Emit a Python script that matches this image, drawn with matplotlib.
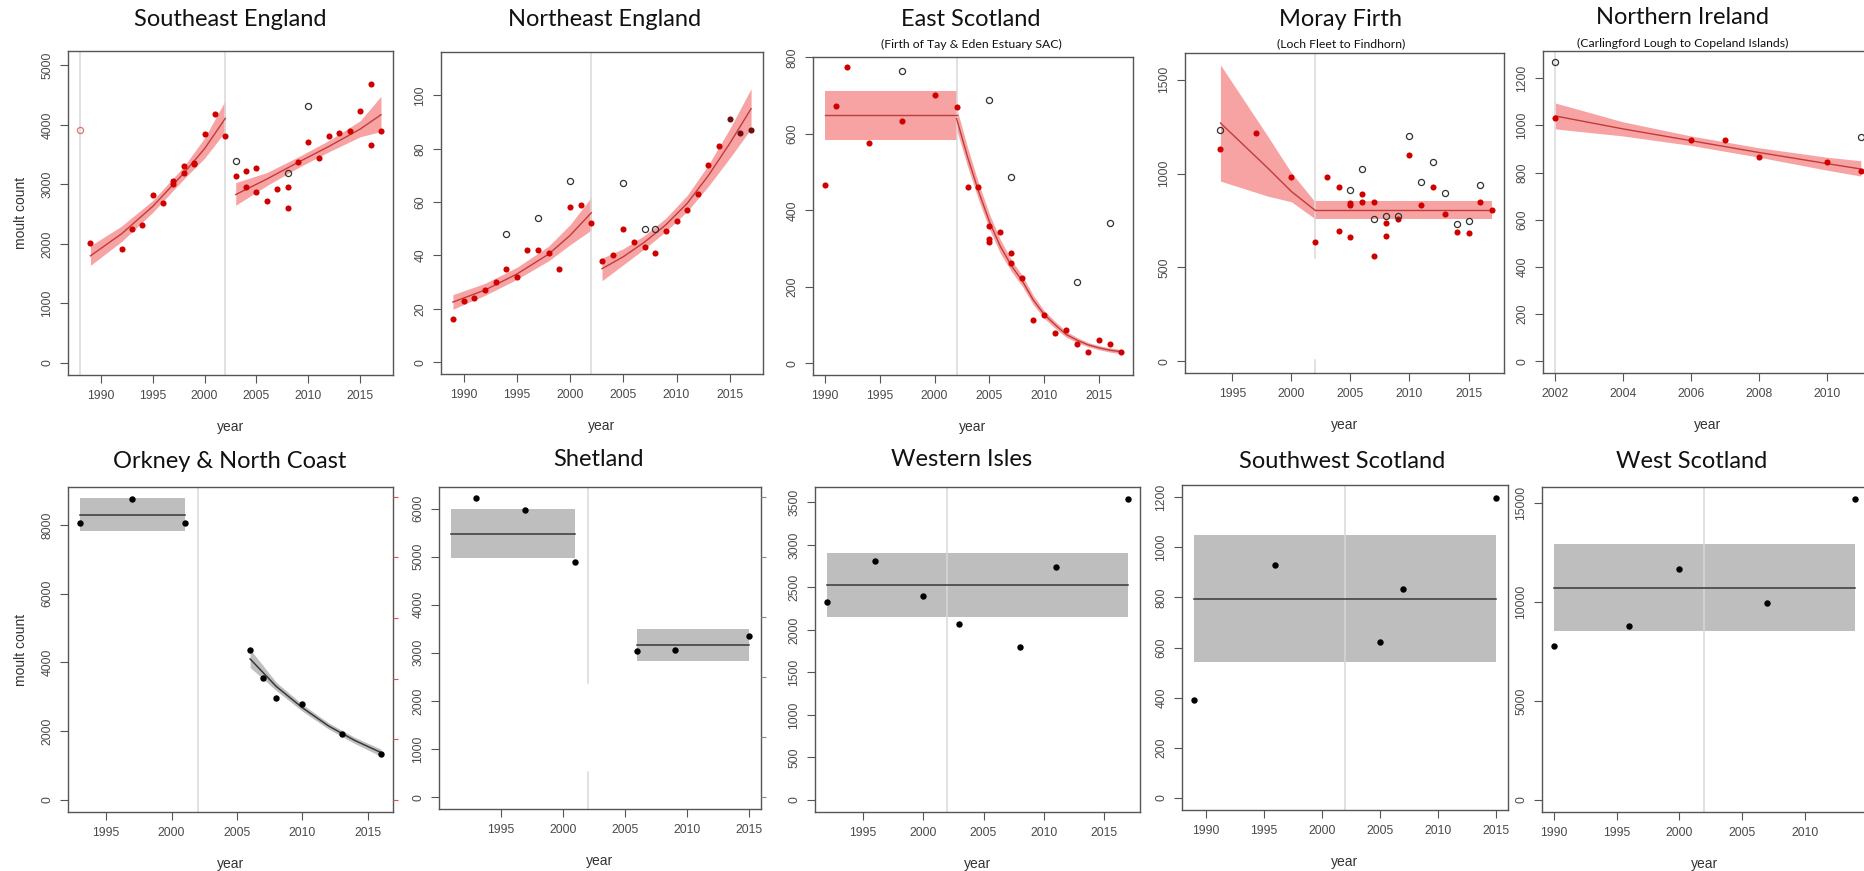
import numpy as np
import matplotlib.pyplot as plt

plt.rcParams['font.family'] = ['Liberation Sans', 'DejaVu Sans']

W, H = 1865, 871
BREAK = 2002  # survey method change, grey vertical line

RED = '#d10000'
DARK_RED = '#6e1010'
PINK = '#f8a3a3'
RED_LINE = '#c23b3b'
OPEN = '#333333'
GREY_BAND = '#bebebe'
BLACK_LINE = '#383838'
VLINE = '#d8d8d8'
FRAME = '#555555'
TICKLAB = '#4a4a4a'

# ---------------- Southeast England ----------------
se_yr = [1989, 1992, 1993, 1994, 1995, 1996, 1997, 1997, 1998, 1998, 1999, 1999, 2000, 2001, 2002,
         2003, 2004, 2004, 2005, 2005, 2006, 2007, 2008, 2008, 2009, 2010, 2011, 2012, 2013, 2014,
         2015, 2016, 2016, 2017]
se_n = [2020, 1920, 2250, 2310, 2820, 2690, 3050, 3000, 3310, 3190, 3360, 3350, 3850, 4190, 3810,
        3140, 3220, 2950, 3270, 2880, 2720, 2930, 2960, 2600, 3380, 3720, 3450, 3820, 3860, 3900,
        4240, 4680, 3660, 3900]
se_open_yr = [2003, 2008, 2010]
se_open_n = [3400, 3190, 4320]
se_excl_yr = [1988]
se_excl_n = [3910]
se_fa_yr = [1989, 1992, 1995, 1998, 2000, 2002]
se_fa = [1800, 2170, 2630, 3190, 3600, 4110]
se_fa_lo = [1640, 2040, 2530, 3090, 3440, 3890]
se_fa_hi = [1970, 2300, 2730, 3300, 3780, 4410]
se_fb_yr = [2003, 2006, 2009, 2012, 2015, 2017]
se_fb = [2830, 3090, 3370, 3640, 3930, 4170]
se_fb_lo = [2650, 2980, 3280, 3550, 3800, 3890]
se_fb_hi = [3030, 3200, 3460, 3740, 4070, 4480]

# ---------------- Northeast England ----------------
ne_yr = [1989, 1990, 1991, 1992, 1993, 1994, 1995, 1996, 1997, 1998, 1999, 2000, 2001, 2002,
         2003, 2004, 2005, 2006, 2007, 2008, 2009, 2010, 2011, 2012, 2013, 2014]
ne_n = [16, 23, 24, 27, 30, 35, 32, 42, 42, 41, 35, 58, 59, 52,
        38, 40, 50, 45, 43, 41, 49, 53, 57, 63, 74, 81]
ne_dark_yr = [2015, 2016, 2017]
ne_dark_n = [91, 86, 87]
ne_open_yr = [1994, 1997, 2000, 2005, 2007, 2008]
ne_open_n = [48, 54, 68, 67, 50, 50]
ne_fa_yr = [1989, 1992, 1995, 1998, 2000, 2002]
ne_fa = [22.5, 27, 33, 40.5, 47.5, 56]
ne_fa_lo = [19.8, 25, 31, 38, 44, 49.5]
ne_fa_hi = [25.3, 29.5, 35.5, 43.5, 51.5, 61.8]
ne_fb_yr = [2003, 2005, 2007, 2009, 2011, 2013, 2015, 2017]
ne_fb = [35, 39.5, 45, 51.5, 59.5, 70, 82, 95]
ne_fb_lo = [30.5, 36.5, 42.5, 49, 56.5, 66, 76.5, 87.5]
ne_fb_hi = [39, 42.5, 47.5, 54, 62.5, 74, 87.5, 102.5]

# ---------------- East Scotland ----------------
es_yr = [1990, 1991, 1992, 1994, 1997, 2000, 2002, 2003, 2004, 2005, 2005, 2005, 2006, 2007, 2007,
         2008, 2009, 2010, 2011, 2012, 2013, 2014, 2015, 2016, 2017]
es_n = [467, 672, 775, 575, 633, 702, 670, 460, 460, 360, 325, 318, 343, 287, 262,
        222, 113, 127, 78, 87, 50, 30, 60, 50, 30]
es_open_yr = [1997, 2005, 2007, 2013, 2016]
es_open_n = [765, 688, 488, 213, 368]
es_fa_yr = [1990, 2002]
es_fa = [648, 648]
es_fa_lo = [585, 585]
es_fa_hi = [712, 712]
es_fb_yr = [2002, 2003, 2004, 2005, 2006, 2007, 2008, 2009, 2010, 2011, 2012, 2013, 2014, 2015, 2016, 2017]
es_fb = [640, 540, 450, 370, 305, 255, 215, 165, 127, 100, 75, 60, 48, 40, 34, 30]
es_fb_lo = [612, 515, 428, 350, 287, 240, 201, 153, 117, 91, 68, 54, 43, 35, 29, 25]
es_fb_hi = [668, 565, 472, 390, 323, 270, 229, 177, 137, 109, 83, 67, 54, 46, 40, 36]

# ---------------- Moray Firth ----------------
mf_yr = [1994, 1997, 2000, 2002, 2003, 2004, 2004, 2005, 2005, 2005, 2006, 2006, 2007, 2007,
         2008, 2008, 2009, 2010, 2011, 2012, 2013, 2014, 2015, 2016, 2017]
mf_n = [1130, 1215, 980, 635, 980, 930, 695, 845, 830, 660, 890, 850, 850, 560,
        735, 670, 760, 1100, 835, 930, 785, 690, 685, 850, 808]
mf_open_yr = [1994, 2005, 2006, 2007, 2008, 2009, 2010, 2011, 2012, 2013, 2014, 2015, 2016]
mf_open_n = [1230, 915, 1025, 760, 775, 775, 1200, 955, 1060, 895, 730, 745, 940]
mf_fa_yr = [1994, 1996, 1998, 2000, 2002]
mf_fa = [1270, 1150, 1030, 905, 805]
mf_fa_lo = [960, 920, 880, 850, 760]
mf_fa_hi = [1580, 1390, 1200, 1005, 850]
mf_fb_yr = [2002, 2017]
mf_fb = [805, 805]
mf_fb_lo = [757, 757]
mf_fb_hi = [852, 852]

# ---------------- Northern Ireland ----------------
ni_yr = [2002, 2006, 2007, 2008, 2010, 2011]
ni_n = [1032, 940, 940, 865, 845, 808]
ni_open_yr = [2002, 2011]
ni_open_n = [1268, 950]
ni_f_yr = [2002, 2004, 2006, 2008, 2010, 2011]
ni_f = [1040, 985, 935, 885, 838, 815]
ni_f_lo = [985, 955, 915, 865, 810, 785]
ni_f_hi = [1095, 1015, 955, 905, 865, 850]

# ---------------- Orkney & North Coast ----------------
or_yr = [1993, 1997, 2001, 2006, 2007, 2008, 2010, 2013, 2016]
or_n = [8050, 8760, 8050, 4370, 3560, 2970, 2800, 1920, 1350]
or_fa_yr = [1993, 2001]
or_fa = [8300, 8300]
or_fa_lo = [7820, 7820]
or_fa_hi = [8780, 8780]
or_fb_yr = [2006, 2007, 2008, 2010, 2012, 2014, 2016]
or_fb = [4100, 3700, 3300, 2680, 2150, 1730, 1380]
or_fb_lo = [3850, 3520, 3180, 2580, 2060, 1640, 1270]
or_fb_hi = [4380, 3900, 3420, 2780, 2240, 1820, 1480]

# ---------------- Shetland ----------------
sh_yr = [1993, 1997, 2001, 2006, 2009, 2015]
sh_n = [6215, 5980, 4880, 3035, 3055, 3350]
sh_fa_yr = [1991, 2001]
sh_fa = [5475, 5475]
sh_fa_lo = [4975, 4975]
sh_fa_hi = [5990, 5990]
sh_fb_yr = [2006, 2015]
sh_fb = [3160, 3160]
sh_fb_lo = [2835, 2835]
sh_fb_hi = [3500, 3500]

# ---------------- Western Isles ----------------
wi_yr = [1992, 1996, 2000, 2003, 2008, 2011, 2017]
wi_n = [2325, 2810, 2405, 2065, 1800, 2735, 3535]
wi_f_yr = [1992, 2017]
wi_f = [2530, 2530]
wi_f_lo = [2155, 2155]
wi_f_hi = [2910, 2910]

# ---------------- Southwest Scotland ----------------
sw_yr = [1989, 1996, 2005, 2007, 2015]
sw_n = [390, 930, 622, 834, 1195]
sw_f_yr = [1989, 2015]
sw_f = [795, 795]
sw_f_lo = [542, 542]
sw_f_hi = [1050, 1050]

# ---------------- West Scotland ----------------
ws_yr = [1990, 1996, 2000, 2007, 2014]
ws_n = [7760, 8785, 11670, 9960, 15200]
ws_f_yr = [1990, 2014]
ws_f = [10700, 10700]
ws_f_lo = [8530, 8530]
ws_f_hi = [12930, 12930]


fig = plt.figure(figsize=(W / 100, H / 100), dpi=100)


def r_lim(lo, hi):
    # R's default 4% axis expansion
    pad = 0.04 * (hi - lo)
    return lo - pad, hi + pad


def make_ax(box, xr, yr, xt, yt, ylabel=False):
    l, t, r, b = box
    ax = fig.add_axes([l / W, 1 - b / H, (r - l) / W, (b - t) / H])
    ax.set_xlim(r_lim(*xr))
    ax.set_ylim(r_lim(*yr))
    ax.set_xticks(xt)
    ax.set_yticks(yt)
    for s in ax.spines.values():
        s.set_color(FRAME)
        s.set_linewidth(1.0)
    ax.tick_params(direction='out', length=5.5, width=0.8, color=FRAME,
                   labelcolor=TICKLAB, labelsize=8.7, pad=5)
    ax.tick_params(axis='y', labelrotation=90)
    plt.setp(ax.get_yticklabels(), va='center')
    ax.set_xlabel('year', fontsize=10, color='#333333', labelpad=13)
    if ylabel:
        ax.set_ylabel('moult count', fontsize=10, color='#333333', labelpad=10)
    return ax


def title(xc, yc, text, size=17):
    fig.text(xc / W, 1 - yc / H, text, ha='center', va='center', fontsize=size,
             family=['Lato', 'DejaVu Sans'], color='#111111')


def vline(ax, x, gap=None):
    if gap is None:
        ax.axvline(x, color=VLINE, lw=1.1, zorder=1.5)
    else:
        ax.axvline(x, ymin=0, ymax=gap[0], color=VLINE, lw=1.1, zorder=1.5)
        ax.axvline(x, ymin=gap[1], ymax=1, color=VLINE, lw=1.1, zorder=1.5)


def fits(ax, segs, band, line, lw=1.0):
    for fy, f, lo, hi in segs:
        ax.fill_between(fy, lo, hi, color=band, lw=0, zorder=1)
    for fy, f, lo, hi in segs:
        ax.plot(fy, f, color=line, lw=lw, zorder=2)


def red_pts(ax, yr, n):
    ax.plot(yr, n, 'o', ms=4.4, color=RED, mec='none', zorder=3, clip_on=False)


def open_pts(ax, yr, n, col=OPEN):
    ax.plot(yr, n, 'o', ms=4.4, mfc='none', mec=col, mew=0.9, zorder=3, clip_on=False)


def black_pts(ax, yr, n):
    ax.plot(yr, n, 'o', ms=4.6, color='black', mec='none', zorder=3, clip_on=False)


# ---- top row ----
ax = make_ax((68, 51, 393, 375), (1988, 2017), (0, 5040), range(1990, 2016, 5),
             range(0, 5001, 1000), ylabel=True)
fits(ax, [(se_fa_yr, se_fa, se_fa_lo, se_fa_hi), (se_fb_yr, se_fb, se_fb_lo, se_fb_hi)], PINK, RED_LINE)
vline(ax, BREAK)
vline(ax, se_excl_yr[0])
red_pts(ax, se_yr, se_n)
open_pts(ax, se_open_yr, se_open_n)
open_pts(ax, se_excl_yr, se_excl_n, col='#e07070')
title(230, 20, 'Southeast England')

ax = make_ax((441, 52, 763, 374), (1989, 2017), (0, 111.8), range(1990, 2016, 5), range(0, 101, 20))
fits(ax, [(ne_fa_yr, ne_fa, ne_fa_lo, ne_fa_hi), (ne_fb_yr, ne_fb, ne_fb_lo, ne_fb_hi)], PINK, RED_LINE)
vline(ax, BREAK)
red_pts(ax, ne_yr, ne_n)
ax.plot(ne_dark_yr, ne_dark_n, 'o', ms=4.4, color=DARK_RED, mec='none', zorder=3, clip_on=False)
open_pts(ax, ne_open_yr, ne_open_n)
title(605, 20, 'Northeast England')

ax = make_ax((813, 57, 1133, 375), (1990, 2017), (0, 770), range(1990, 2016, 5), range(0, 801, 200))
fits(ax, [(es_fa_yr, es_fa, es_fa_lo, es_fa_hi), (es_fb_yr, es_fb, es_fb_lo, es_fb_hi)], PINK, RED_LINE)
vline(ax, BREAK)
red_pts(ax, es_yr, es_n)
open_pts(ax, es_open_yr, es_open_n)
title(971, 20, 'East Scotland')
title(971, 44, '(Firth of Tay & Eden Estuary SAC)', size=8.8)

ax = make_ax((1185, 53, 1504, 373), (1992, 2017), (0, 1580), range(1995, 2016, 5), range(0, 1501, 500))
fits(ax, [(mf_fa_yr, mf_fa, mf_fa_lo, mf_fa_hi), (mf_fb_yr, mf_fb, mf_fb_lo, mf_fb_hi)], PINK, RED_LINE)
vline(ax, BREAK, gap=(0.04, 0.36))
red_pts(ax, mf_yr, mf_n)
open_pts(ax, mf_open_yr, mf_open_n)
title(1341, 20, 'Moray Firth')
title(1341, 44, '(Loch Fleet to Findhorn)', size=8.8)

ax = make_ax((1543, 51, 1873, 373), (2002, 2011), (0, 1265), range(2002, 2011, 2), range(0, 1201, 200))
fits(ax, [(ni_f_yr, ni_f, ni_f_lo, ni_f_hi)], PINK, RED_LINE)
vline(ax, BREAK)
red_pts(ax, ni_yr, ni_n)
open_pts(ax, ni_open_yr, ni_open_n)
title(1683, 18, 'Northern Ireland')
title(1683, 43, '(Carlingford Lough to Copeland Islands)', size=8.8)

# ---- bottom row ----
sh_ylim = r_lim(0, 6200)

ax = make_ax((68, 487, 393, 812), (1993, 2016), (0, 8750), range(1995, 2016, 5),
             range(0, 8001, 2000), ylabel=True)
fits(ax, [(or_fa_yr, or_fa, or_fa_lo, or_fa_hi), (or_fb_yr, or_fb, or_fb_lo, or_fb_hi)],
     GREY_BAND, BLACK_LINE, lw=1.1)
vline(ax, BREAK)
black_pts(ax, or_yr, or_n)
tw = ax.twinx()
tw.set_ylim(sh_ylim)
tw.set_yticks(range(0, 6251, 1250))
tw.tick_params(direction='out', length=3.5, width=0.8, color='#e05050', labelright=False)
for s in tw.spines.values():
    s.set_visible(False)
title(230, 461, 'Orkney & North Coast')

ax = make_ax((439, 487, 761, 809), (1991, 2015), (0, 6200), range(1995, 2016, 5), range(0, 6001, 1000))
fits(ax, [(sh_fa_yr, sh_fa, sh_fa_lo, sh_fa_hi), (sh_fb_yr, sh_fb, sh_fb_lo, sh_fb_hi)],
     GREY_BAND, BLACK_LINE, lw=1.1)
vline(ax, BREAK, gap=(0.116, 0.391))
black_pts(ax, sh_yr, sh_n)
tw = ax.twinx()
tw.set_ylim(sh_ylim)
tw.set_yticks(range(0, 6251, 1250))
tw.tick_params(direction='out', length=3.5, width=0.8, color='#888888', labelright=False)
for s in tw.spines.values():
    s.set_visible(False)
title(598, 460, 'Shetland')

ax = make_ax((815, 487, 1140, 812), (1992, 2017), (0, 3540), range(1995, 2016, 5), range(0, 3501, 500))
fits(ax, [(wi_f_yr, wi_f, wi_f_lo, wi_f_hi)], GREY_BAND, BLACK_LINE, lw=1.1)
vline(ax, BREAK)
black_pts(ax, wi_yr, wi_n)
title(962, 460, 'Western Isles')

ax = make_ax((1182, 485, 1508, 810), (1989, 2015), (0, 1200), range(1990, 2016, 5), range(0, 1201, 200))
fits(ax, [(sw_f_yr, sw_f, sw_f_lo, sw_f_hi)], GREY_BAND, BLACK_LINE, lw=1.1)
vline(ax, BREAK)
black_pts(ax, sw_yr, sw_n)
title(1342, 461, 'Southwest Scotland')

ax = make_ax((1542, 487, 1867, 812), (1990, 2014), (0, 15200), range(1990, 2011, 5),
             range(0, 15001, 5000))
fits(ax, [(ws_f_yr, ws_f, ws_f_lo, ws_f_hi)], GREY_BAND, BLACK_LINE, lw=1.1)
vline(ax, BREAK)
black_pts(ax, ws_yr, ws_n)
title(1692, 461, 'West Scotland')

fig.savefig('out.png', dpi=100)
